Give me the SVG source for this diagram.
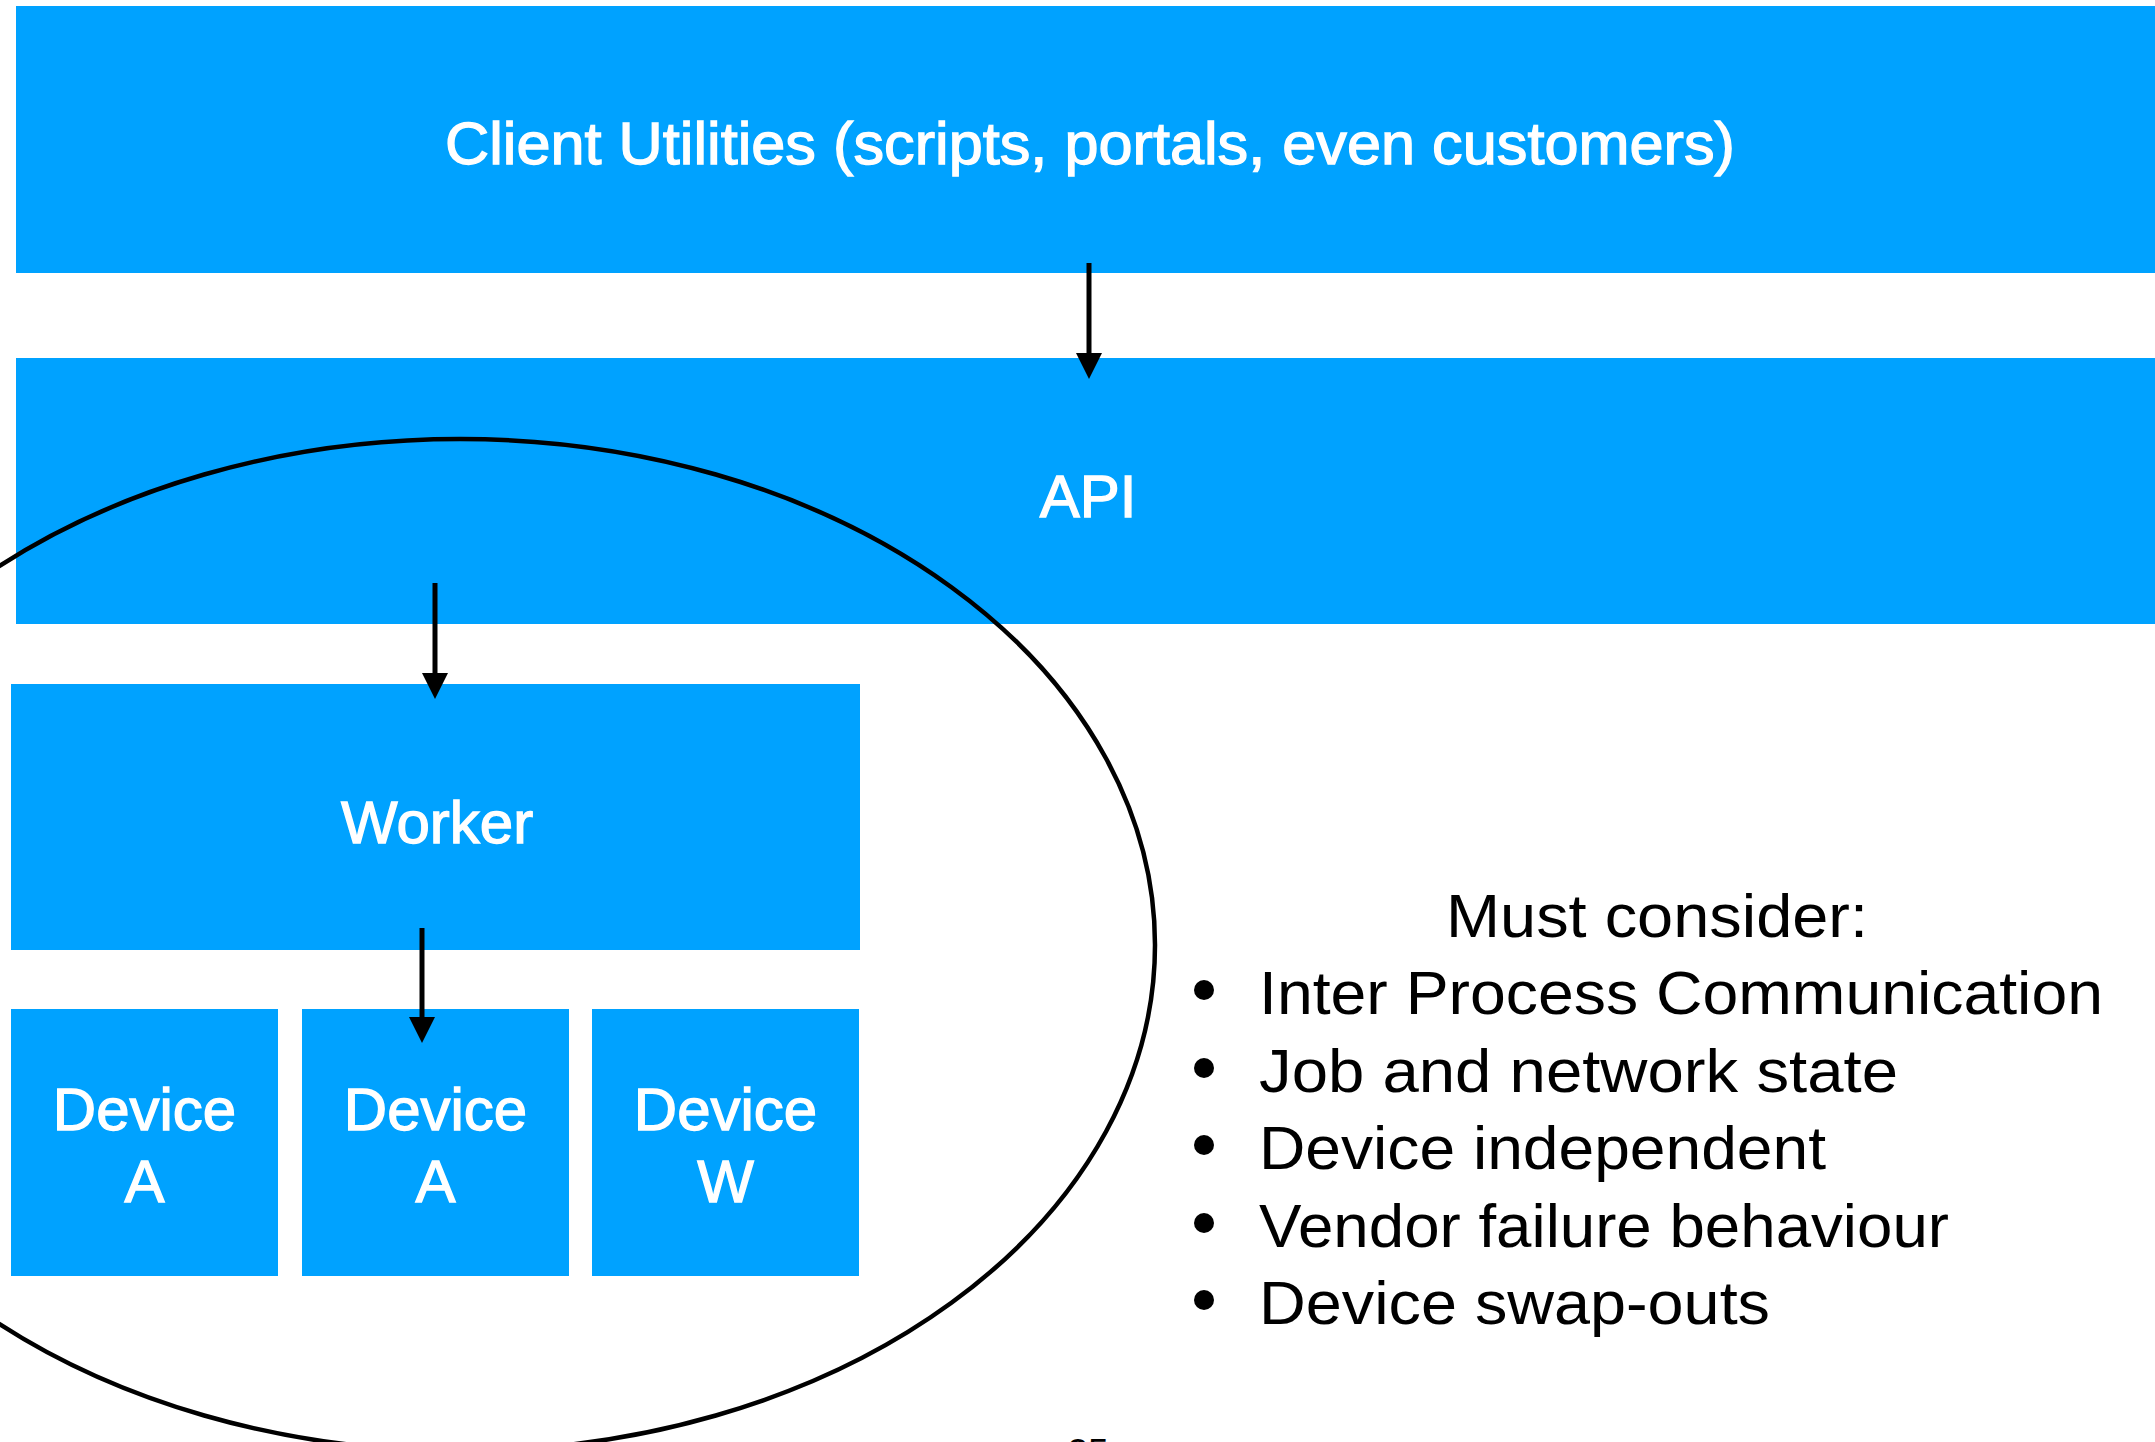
<svg xmlns="http://www.w3.org/2000/svg" width="2155" height="1442" viewBox="0 0 2155 1442">
<style>
.box{fill:#00A2FF}
.lbl{font-family:"Liberation Sans",Arial,Helvetica,sans-serif;font-size:60px;fill:#FFFFFF;stroke:#FFFFFF;stroke-width:1.3;text-anchor:middle}
.txt{font-family:"Liberation Sans",Arial,Helvetica,sans-serif;font-size:61px;fill:#000000}
.conn{stroke:#000;stroke-width:5;fill:none}
</style>
<defs>
<marker id="arr" viewBox="0 0 26 26" markerWidth="26" markerHeight="26" markerUnits="userSpaceOnUse" refX="0" refY="13" orient="auto">
<path d="M0,0 L26,13 L0,26 z" fill="#000"/>
</marker>
</defs>
<rect width="2155" height="1442" fill="#FFFFFF"/>
<g id="client">
<rect class="box" x="16" y="6" width="2139" height="267"/>
<text class="lbl" x="1090" y="164" textLength="1290" lengthAdjust="spacingAndGlyphs">Client Utilities (scripts, portals, even customers)</text>
</g>
<g id="api">
<rect class="box" x="16" y="358" width="2139" height="266"/>
<text class="lbl" x="1088" y="517">API</text>
</g>
<g id="worker">
<rect class="box" x="11" y="684" width="849" height="266"/>
<text class="lbl" x="437" y="843">Worker</text>
</g>
<g id="device1">
<rect class="box" x="11" y="1009" width="267" height="267"/>
<text class="lbl" x="144.5" y="1130">Device</text>
<text class="lbl" x="144.5" y="1202">A</text>
</g>
<g id="device2">
<rect class="box" x="302" y="1009" width="267" height="267"/>
<text class="lbl" x="435.5" y="1130">Device</text>
<text class="lbl" x="435.5" y="1202">A</text>
</g>
<g id="device3">
<rect class="box" x="592" y="1009" width="267" height="267"/>
<text class="lbl" x="725.5" y="1130">Device</text>
<text class="lbl" x="725.5" y="1202">W</text>
</g>
<g id="boundary">
<ellipse cx="460" cy="945" rx="695" ry="506" fill="none" stroke="#000" stroke-width="4.5"/>
</g>
<g id="connectors">
<line class="conn" x1="1089" y1="263" x2="1089" y2="353" marker-end="url(#arr)"/>
<line class="conn" x1="435" y1="583" x2="435" y2="673" marker-end="url(#arr)"/>
<line class="conn" x1="422" y1="928" x2="422" y2="1017" marker-end="url(#arr)"/>
</g>
<g id="notes">
<text class="txt" x="1657" y="937" text-anchor="middle" textLength="422" lengthAdjust="spacingAndGlyphs">Must consider:</text>
<circle cx="1204" cy="990" r="10"/>
<text class="txt" x="1259" y="1014" textLength="844" lengthAdjust="spacingAndGlyphs">Inter Process Communication</text>
<circle cx="1204" cy="1068" r="10"/>
<text class="txt" x="1259" y="1092" textLength="639" lengthAdjust="spacingAndGlyphs">Job and network state</text>
<circle cx="1204" cy="1145" r="10"/>
<text class="txt" x="1259" y="1169" textLength="567" lengthAdjust="spacingAndGlyphs">Device independent</text>
<circle cx="1204" cy="1223" r="10"/>
<text class="txt" x="1259" y="1247" textLength="690" lengthAdjust="spacingAndGlyphs">Vendor failure behaviour</text>
<circle cx="1204" cy="1300" r="10"/>
<text class="txt" x="1259" y="1324" textLength="511" lengthAdjust="spacingAndGlyphs">Device swap-outs</text>
</g>
<text x="1088" y="1465" font-family="Liberation Sans, Arial, sans-serif" font-size="37" text-anchor="middle" fill="#000">25</text>
</svg>
